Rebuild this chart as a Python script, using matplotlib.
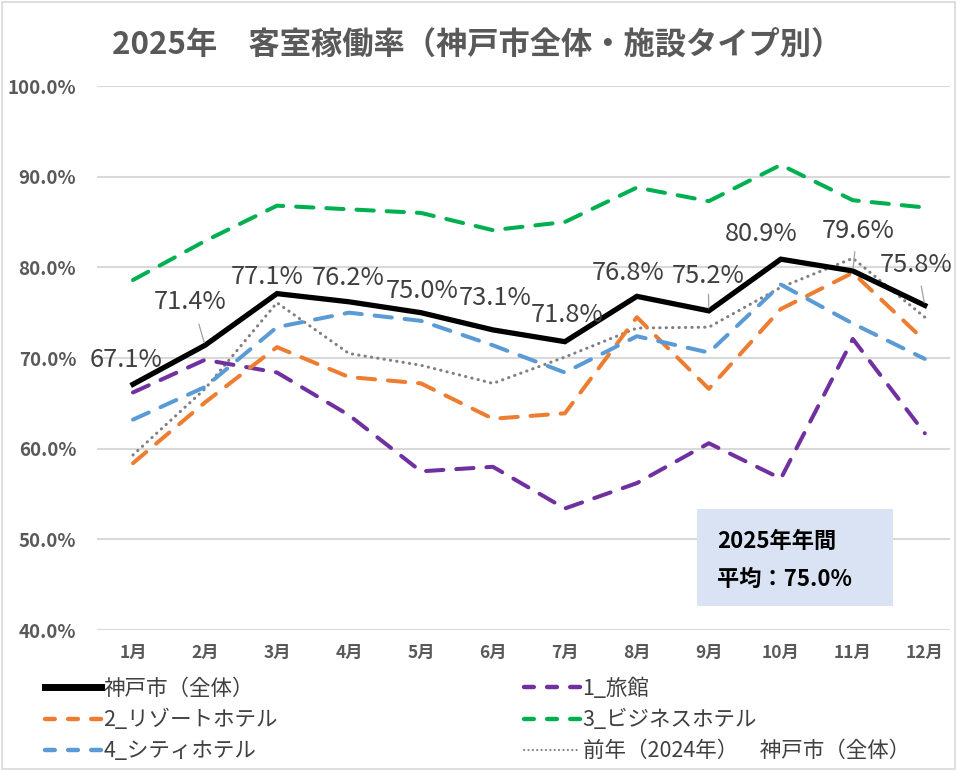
import matplotlib
matplotlib.use("Agg")
import matplotlib.pyplot as plt
from matplotlib.patches import Rectangle
from matplotlib.lines import Line2D

plt.rcParams['font.family'] = ['Noto Sans CJK JP', 'DejaVu Sans']

months = ['1月', '2月', '3月', '4月', '5月', '6月', '7月', '8月', '9月', '10月', '11月', '12月']
kobe_all = [67.1, 71.4, 77.1, 76.2, 75.0, 73.1, 71.8, 76.8, 75.2, 80.9, 79.6, 75.8]
ryokan = [66.2, 69.8, 68.4, 63.7, 57.5, 58.0, 53.4, 56.2, 60.6, 56.7, 72.1, 61.7]
resort = [58.4, 65.1, 71.2, 67.9, 67.2, 63.3, 63.9, 74.5, 66.6, 75.4, 79.4, 71.9]
business = [78.6, 82.9, 86.8, 86.4, 86.0, 84.1, 85.0, 88.8, 87.3, 91.3, 87.4, 86.6]
city = [63.2, 66.8, 73.4, 75.0, 74.1, 71.4, 68.4, 72.4, 70.6, 78.1, 73.8, 69.9]
prev_year = [59.3, 66.6, 76.1, 70.5, 69.2, 67.2, 70.1, 73.3, 73.4, 77.8, 81.0, 74.5]
y_ticks = [40, 50, 60, 70, 80, 90, 100]

# label offsets (pixels) for data labels of 神戸市（全体）
label_offsets = [(-7, 24), (-15, 43), (-10, 17), (-1, 24), (1, 22), (2, 32),
                 (2, 27), (-9, 23), (-1, 35), (-20, 25), (5, 40), (-9, 40)]
leader = [False, True, False, False, False, False, False, False, True, False, True, True]

W, H = 957, 771
fig = plt.figure(figsize=(W / 100, H / 100), dpi=100)
ax = fig.add_axes([97 / W, (H - 630) / H, 853 / W, 544 / H])

x = list(range(len(months)))
gray_txt = '#595959'

ax.plot(x, prev_year, color='#808080', lw=2.2, linestyle=(0, (0.1, 2.0)),
        dash_capstyle='round', zorder=3)
dash = (0, (4.3, 3.2))
lw_d = 2.9
ax.plot(x, ryokan, color='#7030A0', lw=lw_d, linestyle=dash, dash_capstyle='round', zorder=3)
ax.plot(x, resort, color='#ED7D31', lw=lw_d, linestyle=dash, dash_capstyle='round', zorder=3)
ax.plot(x, business, color='#00B050', lw=lw_d, linestyle=dash, dash_capstyle='round', zorder=3)
ax.plot(x, city, color='#5B9BD5', lw=lw_d, linestyle=dash, dash_capstyle='round', zorder=3)
ax.plot(x, kobe_all, color='black', lw=3.8, solid_joinstyle='miter', zorder=4)

for i, v in enumerate(kobe_all):
    dx, dy = label_offsets[i]
    ax.annotate(f'{v:.1f}%', xy=(i, v), xytext=(dx, dy), textcoords='offset pixels',
                ha='center', va='center', fontsize=18.3, color='#404040', zorder=5)
    if leader[i]:
        ax.annotate('', xy=(i, v), xytext=(dx * 0.45, dy * 0.55), textcoords='offset pixels',
                    arrowprops=dict(arrowstyle='-', color='#A0A0A0', lw=0.9), zorder=5)

ax.set_xlim(-0.5, 11.35)
ax.set_ylim(40, 100)
ax.set_yticks(y_ticks)
ax.set_yticklabels([f'{t:.1f}%' for t in y_ticks], fontsize=13.5, fontweight='bold', color=gray_txt)
ax.set_xticks(x)
ax.set_xticklabels(months, fontsize=12.5, fontweight='bold', color=gray_txt)
ax.tick_params(length=0)
ax.tick_params(axis='y', pad=15)
ax.tick_params(axis='x', pad=10)
ax.grid(axis='y', color='#D9D9D9', lw=1.5)
ax.set_axisbelow(True)
for s in ax.spines.values():
    s.set_visible(False)

fig.text(477 / W, 1 - 46 / H, '2025年　客室稼働率（神戸市全体・施設タイプ別）',
         ha='center', va='center', fontsize=22.5, fontweight='bold', color=gray_txt)

# summary box
fig.add_artist(Rectangle((697 / W, 1 - 606 / H), 196 / W, 97 / H, transform=fig.transFigure,
                         facecolor='#DAE3F3', edgecolor='none', zorder=6))
fig.text(717 / W, 1 - 541 / H, '2025年年間', ha='left', va='center', fontsize=16,
         fontweight='bold', color='black', zorder=7)
fig.text(717 / W, 1 - 579 / H, '平均：75.0%', ha='left', va='center', fontsize=16,
         fontweight='bold', color='black', zorder=7)

# legend (two columns)
def h(color, lw, ls):
    return Line2D([0], [0], color=color, lw=lw, linestyle=ls, dash_capstyle='round')

col1 = [h('black', 5, '-'), h('#ED7D31', 3.2, (0, (2.2, 3.0))), h('#5B9BD5', 3.2, (0, (2.2, 3.0)))]
lab1 = ['神戸市（全体）', '2_リゾートホテル', '4_シティホテル']
col2 = [h('#7030A0', 3.2, (0, (2.2, 3.0))), h('#00B050', 3.2, (0, (2.2, 3.0))),
        h('#808080', 1.5, (0, (0.1, 2.0)))]
lab2 = ['1_旅館', '3_ビジネスホテル', '前年（2024年）　神戸市（全体）']
kw = dict(frameon=False, fontsize=15.5, handlelength=2.6, handletextpad=0.12,
          labelspacing=0.42, borderpad=0, borderaxespad=0, loc='upper left')
leg1 = fig.legend(col1, lab1, bbox_to_anchor=(45 / W, 1 - 678 / H), **kw)
for t in leg1.get_texts():
    t.set_color('#404040')
leg2 = fig.legend(col2, lab2, bbox_to_anchor=(524 / W, 1 - 678 / H), **kw)
for t in leg2.get_texts():
    t.set_color('#404040')

# outer frame
fig.add_artist(Rectangle((2 / W, 2 / H), (W - 4) / W, (H - 4) / H, transform=fig.transFigure,
                         facecolor='none', edgecolor='#D9D9D9', lw=1.2))

fig.savefig('out.png', dpi=100)
